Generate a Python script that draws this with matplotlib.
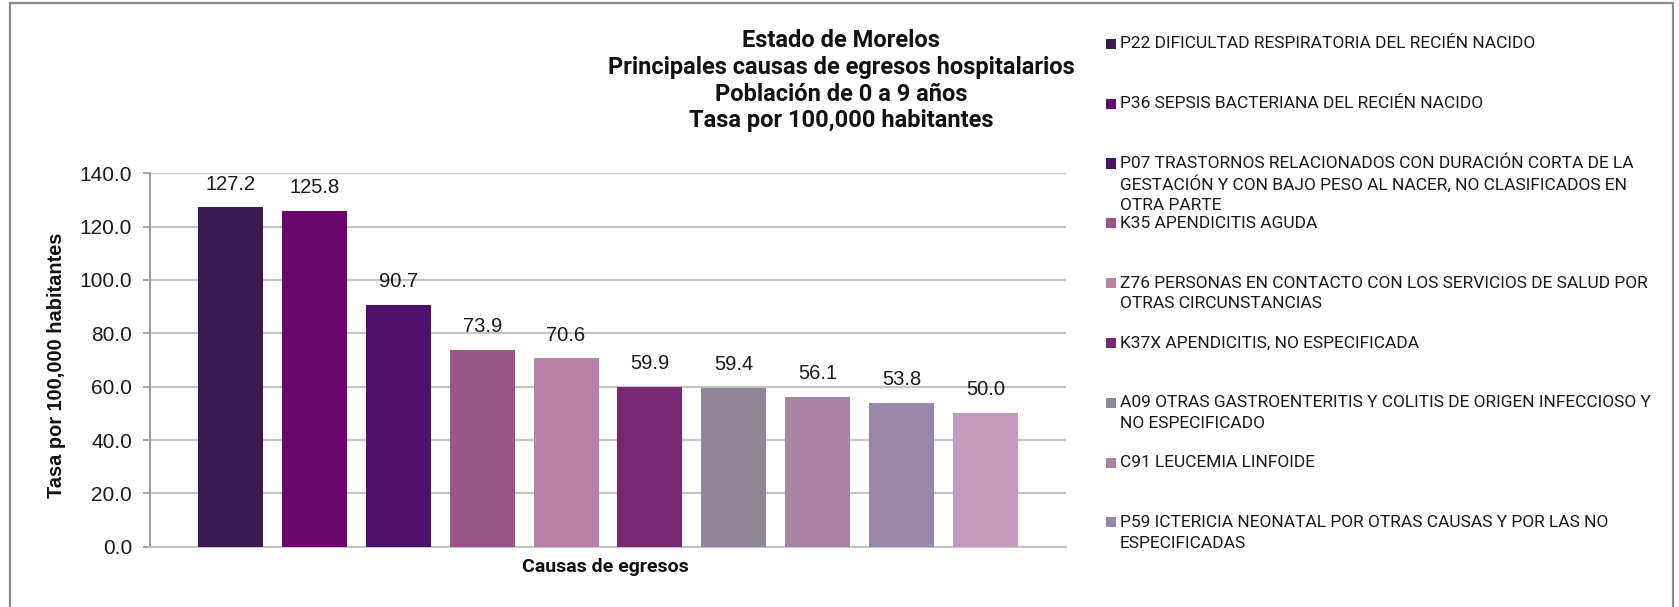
import textwrap
import matplotlib
matplotlib.use("Agg")
import matplotlib.pyplot as plt
from matplotlib.patches import Rectangle

# ---------------- data ----------------
values = [127.2, 125.8, 90.7, 73.9, 70.6, 59.9, 59.4, 56.1, 53.8, 50.0]
bar_colors = ["#3B1A52", "#6A076A", "#4F1069", "#9A5689", "#B981A6",
              "#772873", "#8F8799", "#A883A6", "#9886A8", "#C499BB"]
legend_labels = [
    "P22 DIFICULTAD RESPIRATORIA DEL RECIÉN NACIDO",
    "P36 SEPSIS BACTERIANA DEL RECIÉN NACIDO",
    "P07 TRASTORNOS RELACIONADOS CON DURACIÓN CORTA DE LA GESTACIÓN Y CON BAJO PESO AL NACER, NO CLASIFICADOS EN OTRA PARTE",
    "K35 APENDICITIS AGUDA",
    "Z76 PERSONAS EN CONTACTO CON LOS SERVICIOS DE SALUD POR OTRAS CIRCUNSTANCIAS",
    "K37X APENDICITIS, NO ESPECIFICADA",
    "A09 OTRAS GASTROENTERITIS Y COLITIS DE ORIGEN INFECCIOSO Y NO ESPECIFICADO",
    "C91 LEUCEMIA LINFOIDE",
    "P59 ICTERICIA NEONATAL POR OTRAS CAUSAS Y POR LAS NO ESPECIFICADAS",
]
title_lines = ["Estado de Morelos",
               "Principales causas de egresos hospitalarios",
               "Población de 0 a 9 años",
               "Tasa por 100,000 habitantes"]
y_ticks = [0, 20, 40, 60, 80, 100, 120, 140]
ylabel = "Tasa por 100,000 habitantes"
xlabel = "Causas de egresos"

# ---------------- layout ----------------
W, H = 1679, 607
fig = plt.figure(figsize=(W / 100, H / 100), dpi=100)
fig.patch.set_facecolor("white")

def fx(px):
    return px / W

def fy(py):
    return 1 - py / H

ax_left, ax_right, ax_top, ax_bottom = 150, 1066, 173.3, 546.7
ax = fig.add_axes([fx(ax_left), fy(ax_bottom), fx(ax_right - ax_left),
                   (ax_bottom - ax_top) / H])

num_font = ["Liberation Sans", "DejaVu Sans"]
title_font = ["Roboto", "DejaVu Sans"]
leg_font = ["Liberation Sans Narrow", "Roboto", "DejaVu Sans"]

x = list(range(len(values)))
ax.bar(x, values, width=0.776, color=bar_colors, zorder=3)
for xi, v in zip(x, values):
    ax.annotate(f"{v:.1f}", (xi, v), xytext=(0, 10), textcoords="offset points",
                ha="center", va="bottom", fontsize=14.5, family=num_font,
                color="#1a1a1a")

ax.set_xlim(-0.96, 9.96)
ax.set_ylim(0, 140)
ax.set_yticks(y_ticks)
ax.set_yticklabels([f"{t:.1f}" for t in y_ticks], family=num_font, fontsize=15,
                   color="#1a1a1a")
ax.set_xticks([])
ax.grid(axis="y", color="#C4C4C4", linewidth=1.6, zorder=0)
ax.tick_params(axis="y", length=5, width=1.2, color="#9A9A9A", pad=8)
for s in ["top", "right"]:
    ax.spines[s].set_visible(False)
ax.spines["left"].set_color("#9A9A9A")
ax.spines["left"].set_linewidth(1.4)
ax.spines["bottom"].set_color("#C4C4C4")
ax.spines["bottom"].set_linewidth(1.6)

ax.set_ylabel(ylabel, family=num_font, fontsize=14.4, fontweight="bold",
              color="#111111")
ax.yaxis.label.set_va("center")
ax.yaxis.set_label_coords((57 - ax_left) / (ax_right - ax_left), 0.485)

# title
title_y = [40.7, 67.5, 94.2, 121.0]
for line, ty in zip(title_lines, title_y):
    fig.text(fx(841), fy(ty), line, ha="center", va="center", family=title_font,
             fontsize=17, fontweight="bold", color="#111111")

fig.text(fx(605), fy(567), xlabel, ha="center", va="center", family=title_font,
         fontsize=14, fontweight="bold", color="#111111")

# legend (manual, Excel-like)
leg_y0, leg_step, line_step = 43.9, 59.8, 20.8
for i, lab in enumerate(legend_labels):
    y0 = leg_y0 + i * leg_step
    fig.patches.append(Rectangle((fx(1106), fy(y0 + 5)), fx(10), 10 / H,
                                 transform=fig.transFigure,
                                 facecolor=bar_colors[i], edgecolor="none"))
    for k, ln in enumerate(textwrap.wrap(lab, 58)):
        fig.text(fx(1120), fy(y0 + k * line_step), ln, ha="left", va="center",
                 family=leg_font, fontsize=12.5, color="#1a1a1a")

# outer frame
fig.patches.append(Rectangle((fx(10), fy(700)), fx(1663), (700 - 3) / H,
                             transform=fig.transFigure, facecolor="none",
                             edgecolor="#8C8C8C", linewidth=1.6, clip_on=False))

fig.savefig("out.png", dpi=100, facecolor="white")
